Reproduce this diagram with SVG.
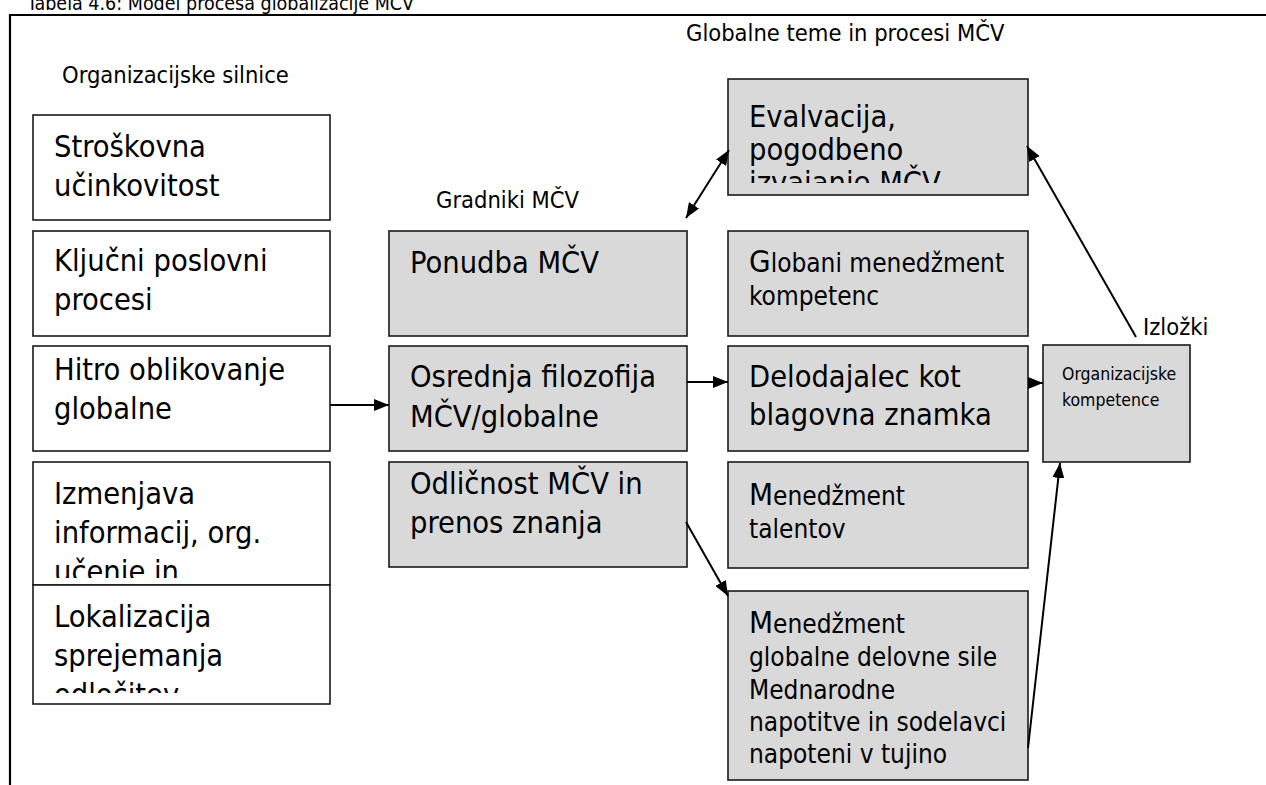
<svg xmlns="http://www.w3.org/2000/svg" width="1266" height="785" viewBox="0 0 1266 785">
  <style>
    text { font-family: 'DejaVu Sans Condensed', 'DejaVu Sans', sans-serif; fill: #000; }
    .title { font-size: 19.5px; }
    .hdr { font-size: 23.5px; }
    .big { font-size: 30.5px; }
    .sm { font-size: 26px; }
    .cap { font-size: 31px; }
    .tiny { font-size: 17.5px; }
    .box-w { fill: #ffffff; stroke: #1a1a1a; stroke-width: 1.6; }
    .box-g { fill: #d9d9d9; stroke: #1a1a1a; stroke-width: 1.6; }
    .frame { fill: none; stroke: #000; stroke-width: 2.2; }
    .conn { fill: none; stroke: #000; stroke-width: 2; }
  </style>
  <defs>
    <marker id="head" viewBox="0 0 15 12" refX="15" refY="6" markerWidth="15" markerHeight="12" markerUnits="userSpaceOnUse" orient="auto-start-reverse">
      <path d="M0,0 L15,6 L0,12 Z" fill="#000"/>
    </marker>
    <clipPath id="clip-izm"><rect x="33" y="462" width="297" height="116"/></clipPath>
    <clipPath id="clip-lok"><rect x="33" y="585" width="297" height="108"/></clipPath>
    <clipPath id="clip-eval"><rect x="728" y="79" width="300" height="104"/></clipPath>
  </defs>

  <rect width="1266" height="785" fill="#ffffff"/>

  <!-- caption, partly above the page edge -->
  <text class="title" x="27" y="10">Tabela 4.6: Model procesa globalizacije MČV</text>

  <!-- outer frame -->
  <path class="frame" d="M10,786 V15 H1267"/>

  <!-- column headings -->
  <text class="hdr" x="62" y="83">Organizacijske silnice</text>
  <text class="hdr" x="686" y="41">Globalne teme in procesi MČV</text>
  <text class="hdr" x="436" y="208">Gradniki MČV</text>
  <text class="hdr" x="1143" y="335">Izložki</text>

  <!-- organisational drivers -->
  <g id="drv-cost">
    <rect class="box-w" x="33" y="115" width="297" height="105"/>
    <text class="big" x="54" y="157">Stroškovna</text>
    <text class="big" x="54" y="196">učinkovitost</text>
  </g>
  <g id="drv-process">
    <rect class="box-w" x="33" y="231" width="297" height="105"/>
    <text class="big" x="54" y="271">Ključni poslovni</text>
    <text class="big" x="54" y="310">procesi</text>
  </g>
  <g id="drv-rapid">
    <rect class="box-w" x="33" y="346" width="297" height="105"/>
    <text class="big" x="54" y="380">Hitro oblikovanje</text>
    <text class="big" x="54" y="419">globalne</text>
  </g>
  <g id="drv-exchange">
    <rect class="box-w" x="33" y="462" width="297" height="123"/>
    <g clip-path="url(#clip-izm)">
      <text class="big" x="54" y="504">Izmenjava</text>
      <text class="big" x="54" y="543">informacij, org.</text>
      <text class="big" x="54" y="582">učenje in</text>
    </g>
  </g>
  <g id="drv-local">
    <rect class="box-w" x="33" y="585" width="297" height="119"/>
    <g clip-path="url(#clip-lok)">
      <text class="big" x="54" y="627">Lokalizacija</text>
      <text class="big" x="54" y="666">sprejemanja</text>
      <text class="big" x="54" y="705">odločitev</text>
    </g>
  </g>

  <!-- HR building blocks -->
  <g id="blk-offer">
    <rect class="box-g" x="389" y="231" width="298" height="105"/>
    <text class="big" x="410" y="273">Ponudba MČV</text>
  </g>
  <g id="blk-philosophy">
    <rect class="box-g" x="389" y="346" width="298" height="105"/>
    <text class="big" x="410" y="387">Osrednja filozofija</text>
    <text class="big" x="410" y="427">MČV/globalne</text>
  </g>
  <g id="blk-excellence">
    <rect class="box-g" x="389" y="462" width="298" height="105"/>
    <text class="big" x="410" y="494">Odličnost MČV in</text>
    <text class="big" x="410" y="533">prenos znanja</text>
  </g>

  <!-- global themes and processes -->
  <g id="thm-eval">
    <rect class="box-g" x="728" y="79" width="300" height="116"/>
    <g clip-path="url(#clip-eval)">
      <text class="big" x="749" y="127">Evalvacija,</text>
      <text class="big" x="749" y="160">pogodbeno</text>
      <text class="big" x="749" y="193">izvajanje MČV</text>
    </g>
  </g>
  <g id="thm-competence">
    <rect class="box-g" x="728" y="231" width="300" height="105"/>
    <text class="sm" x="749" y="272"><tspan class="cap">G</tspan>lobani menedžment</text>
    <text class="sm" x="749" y="305">kompetenc</text>
  </g>
  <g id="thm-brand">
    <rect class="box-g" x="728" y="346" width="300" height="105"/>
    <text class="big" x="749" y="387">Delodajalec kot</text>
    <text class="big" x="749" y="425">blagovna znamka</text>
  </g>
  <g id="thm-talent">
    <rect class="box-g" x="728" y="462" width="300" height="106"/>
    <text class="sm" x="749" y="505"><tspan class="cap">M</tspan>enedžment</text>
    <text class="sm" x="749" y="538">talentov</text>
  </g>
  <g id="thm-workforce">
    <rect class="box-g" x="728" y="591" width="300" height="189"/>
    <text class="sm" x="749" y="633"><tspan class="cap">M</tspan>enedžment</text>
    <text class="sm" x="749" y="666">globalne delovne sile</text>
    <text class="sm" x="749" y="699">Mednarodne</text>
    <text class="sm" x="749" y="731">napotitve in sodelavci</text>
    <text class="sm" x="749" y="763">napoteni v tujino</text>
  </g>

  <!-- outputs -->
  <g id="out-competences">
    <rect class="box-g" x="1043" y="345" width="147" height="117"/>
    <text class="tiny" x="1062" y="380">Organizacijske</text>
    <text class="tiny" x="1062" y="406">kompetence</text>
  </g>

  <!-- connectors -->
  <g id="connectors">
    <line class="conn" x1="330" y1="405" x2="389" y2="405" marker-end="url(#head)"/>
    <line class="conn" x1="687" y1="382" x2="728" y2="382" marker-end="url(#head)"/>
    <line class="conn" x1="1028" y1="383" x2="1043" y2="383" marker-end="url(#head)"/>
    <line class="conn" x1="686" y1="218" x2="729" y2="150" marker-start="url(#head)" marker-end="url(#head)"/>
    <line class="conn" x1="686" y1="522" x2="728" y2="596" marker-end="url(#head)"/>
    <line class="conn" x1="1028" y1="748" x2="1060" y2="463" marker-end="url(#head)"/>
    <line class="conn" x1="1136" y1="337" x2="1027" y2="146" marker-end="url(#head)"/>
  </g>
</svg>
